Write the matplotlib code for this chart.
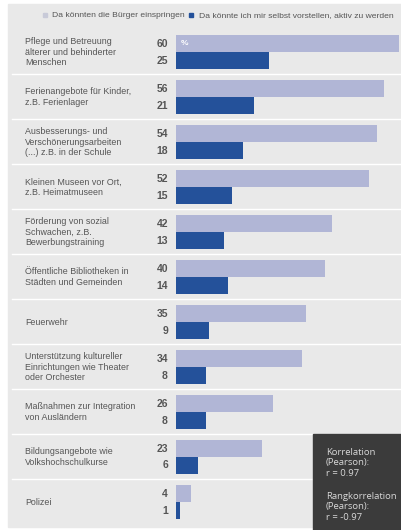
import matplotlib as mpl
mpl.use('Agg')
import matplotlib.pyplot as plt
from matplotlib.patches import Rectangle
from matplotlib.lines import Line2D
from matplotlib.transforms import blended_transform_factory

plt.rcParams['font.family'] = ['Liberation Sans', 'DejaVu Sans']

# Survey answers in percent
categories = [
    'Pflege und Betreuung\nälterer und behinderter\nMenschen',
    'Ferienangebote für Kinder,\nz.B. Ferienlager',
    'Ausbesserungs- und\nVerschönerungsarbeiten\n(...) z.B. in der Schule',
    'Kleinen Museen vor Ort,\nz.B. Heimatmuseen',
    'Förderung von sozial\nSchwachen, z.B.\nBewerbungstraining',
    'Öffentliche Bibliotheken in\nStädten und Gemeinden',
    'Feuerwehr',
    'Unterstützung kultureller\nEinrichtungen wie Theater\noder Orchester',
    'Maßnahmen zur Integration\nvon Ausländern',
    'Bildungsangebote wie\nVolkshochschulkurse',
    'Polizei',
]
buerger = [60, 56, 54, 52, 42, 40, 35, 34, 26, 23, 4]
selbst = [25, 21, 18, 15, 13, 14, 9, 8, 8, 6, 1]
legend_labels = ['Da könnten die Bürger einspringen',
                 'Da könnte ich mir selbst vorstellen, aktiv zu werden']
corr_lines = ['Korrelation\n(Pearson):\nr = 0.97',
              'Rangkorrelation\n(Pearson):\nr = -0.97']

light = '#b1b6d6'
dark = '#24519a'
panel = '#e9e9e9'
txt = '#555555'

W, H = 401, 530
fig = plt.figure(figsize=(W / 100, H / 100), dpi=100)
fig.patch.set_facecolor('white')

def fx(px):
    return px / W

def fy(px):
    return 1 - px / H

# grey panel behind everything
fig.patches.append(Rectangle((fx(8), fy(527)), fx(401) - fx(8), fy(4) - fy(527),
                             transform=fig.transFigure, color=panel, zorder=-10))

# bar axes: x=0 at 176px, group i centred at 52 + 45*i px
x0, x1 = 176, 401
top, bottom = 4, 527
ax = fig.add_axes([fx(x0), fy(bottom), fx(x1) - fx(x0), fy(top) - fy(bottom)])
ax.set_zorder(1)
ax.set_xlim(0, (x1 - x0) / 3.72)
ax.set_ylim((bottom - 52) / 45, (top - 52) / 45)
ax.axis('off')
ax.patch.set_alpha(0)

n = len(categories)
ypos = list(range(n))
h = 17 / 45
ax.barh([y - h / 2 for y in ypos], buerger, height=h * 0.97, color=light, align='center')
ax.barh([y + h / 2 for y in ypos], selbst, height=h * 0.97, color=dark, align='center')
ax.text(1.3, -h / 2, '%', color='white', fontsize=6, fontweight='bold', va='center')

tr = blended_transform_factory(fig.transFigure, ax.transData)
for i, cat in enumerate(categories):
    ax.text(fx(25), i, cat, transform=tr, fontsize=6.4, color=txt,
            va='center', ha='left', linespacing=1.15, clip_on=False)
    ax.text(fx(168), i - h / 2, str(buerger[i]), transform=tr, fontsize=7.5,
            fontweight='bold', color=txt, va='center', ha='right')
    ax.text(fx(168), i + h / 2, str(selbst[i]), transform=tr, fontsize=7.5,
            fontweight='bold', color=txt, va='center', ha='right')
    if i < n - 1:
        ax.add_line(Line2D([fx(12), 1], [i + 0.49, i + 0.49], transform=tr,
                           color='white', lw=1.0, clip_on=False))

# legend row
for mx, tx, col, lab in [(45, 52, '#c8cad8', legend_labels[0]),
                         (191, 199, dark, legend_labels[1])]:
    fig.patches.append(Rectangle((fx(mx - 2), fy(17)), fx(4), 4 / H,
                                 transform=fig.transFigure, color=col, zorder=2))
    fig.text(fx(tx), fy(15.5), lab, fontsize=6.1, color=txt, va='center', ha='left')

# correlation box in the lower right corner
fig.patches.append(Rectangle((fx(313), 0), fx(401) - fx(313), fy(434),
                             transform=fig.transFigure, color='#3b3b3b', zorder=3))
for ty, block in zip([448, 492], corr_lines):
    fig.text(fx(326), fy(ty), block, fontsize=6.8, color='#d8d8d8',
             va='top', ha='left', linespacing=1.18, zorder=4,
             family='Open Sans')

fig.savefig('out.png', dpi=100)
